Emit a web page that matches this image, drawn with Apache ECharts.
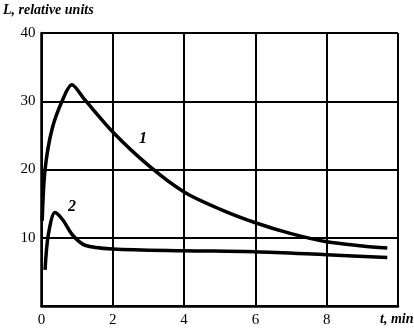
<!DOCTYPE html>
<html>
<head>
<meta charset="utf-8">
<script src="https://cdn.jsdelivr.net/npm/echarts@6/dist/echarts.min.js"></script>
<style>html,body{margin:0;padding:0;background:#fff}#c{width:414px;height:330px}</style>
</head>
<body>
<div id="c"></div>
<script>
// Curve 1: [t (min), L (relative units)]
var curve1 = [[0.02,12.5],[0.1,20],[0.3,26],[0.6,30.3],[0.85,32.4],[1.2,30.3],[2,25.5],[3,20.6],[4,16.7],[5,14.2],[6,12.2],[7,10.6],[8,9.4],[9,8.8],[9.7,8.5]];
// Curve 2
var curve2 = [[0.1,5.3],[0.19,10.4],[0.38,13.7],[0.6,12.6],[0.87,10.4],[1.22,8.9],[2,8.35],[4,8.1],[6,7.95],[8,7.5],[9.7,7.1]];
var xTicks = [0,2,4,6,8];
var yTicks = [10,20,30,40];
var serif = '"Liberation Serif", "DejaVu Serif", serif';

var chart = echarts.init(document.getElementById('c'), null, {renderer:'canvas'});
chart.setOption({
  animation:false,
  grid:{left:41.5, right:16, top:33, bottom:24},
  xAxis:{type:'value', min:0, max:10, interval:2,
    axisLine:{show:true, lineStyle:{color:'#000', width:2.5}},
    axisTick:{show:false},
    splitLine:{show:true, lineStyle:{color:'#000', width:2}},
    axisLabel:{color:'#000', fontFamily:serif, fontSize:15, margin:7,
      formatter:function(v){return xTicks.indexOf(v)>=0 ? String(v) : '';}}
  },
  yAxis:{type:'value', min:0, max:40, interval:10,
    axisLine:{show:true, lineStyle:{color:'#000', width:2.5}},
    axisTick:{show:false},
    splitLine:{show:true, lineStyle:{color:'#000', width:2}},
    axisLabel:{color:'#000', fontFamily:serif, fontSize:15, margin:6,
      formatter:function(v){return yTicks.indexOf(v)>=0 ? String(v) : '';}}
  },
  series:[
    {type:'line', data:curve1, smooth:0.3, showSymbol:false,
     lineStyle:{color:'#000', width:3.5}},
    {type:'line', data:curve2, smooth:0.3, showSymbol:false,
     lineStyle:{color:'#000', width:3.5}}
  ],
  graphic:[
    {type:'text', left:3, top:3, style:{text:'L, relative units', font:'italic bold 14px '+serif, fill:'#000'}},
    {type:'text', left:380, top:312, style:{text:'t, min', font:'italic bold 14px '+serif, fill:'#000'}},
    {type:'text', left:139, top:131, style:{text:'1', font:'italic bold 16px '+serif, fill:'#000'}},
    {type:'text', left:68, top:199, style:{text:'2', font:'italic bold 16px '+serif, fill:'#000'}}
  ]
});
</script>
</body>
</html>
